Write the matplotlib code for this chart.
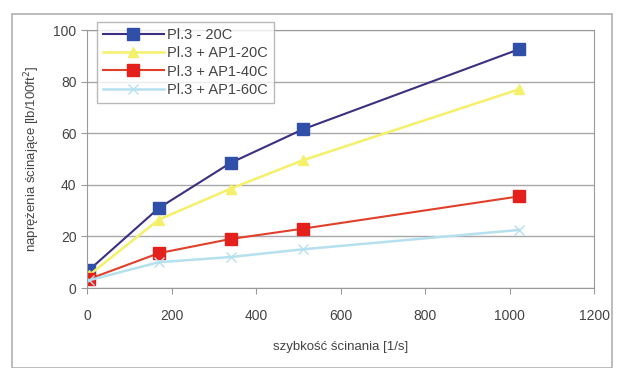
import matplotlib.pyplot as plt
from matplotlib.patches import Rectangle

shear_rate = [5.1, 170, 340, 511, 1022]
pl3_20c = [7, 31, 48.5, 61.5, 92.5]
ap1_20c = [5, 26.5, 38.5, 49.5, 77]
ap1_40c = [3.5, 13.5, 19, 23, 35.5]
ap1_60c = [3, 10, 12, 15, 22.5]

x_ticks = [0, 200, 400, 600, 800, 1000, 1200]
y_ticks = [0, 20, 40, 60, 80, 100]

plt.rcParams["font.family"] = ["Liberation Sans", "DejaVu Sans"]

fig = plt.figure(figsize=(6.21, 3.68), dpi=100)
# light gray frame around the whole chart (Excel style)
fig.patches.append(Rectangle((12 / 621, 0.0), 600 / 621, 1 - 14 / 368,
                             transform=fig.transFigure, fill=False,
                             edgecolor="#b0b0b0", linewidth=1.2))
ax = fig.add_axes([87 / 621, 80 / 368, 507 / 621, 258 / 368])

ax.plot(shear_rate, pl3_20c, color="#3b2f80", linewidth=1.5,
        marker="s", markersize=8, markerfacecolor="#2f4fa8",
        markeredgecolor="#2f4fa8", label="Pl.3 - 20C")
ax.plot(shear_rate, ap1_20c, color="#f5f06a", linewidth=1.8,
        marker="^", markersize=7, markerfacecolor="#f5f06a",
        markeredgecolor="#f5f06a", label="Pl.3 + AP1-20C")
ax.plot(shear_rate, ap1_40c, color="#e0402a", linewidth=1.5,
        marker="s", markersize=8, markerfacecolor="#e3201b",
        markeredgecolor="#e3201b", label="Pl.3 + AP1-40C")
ax.plot(shear_rate, ap1_60c, color="#b5e0ee", linewidth=1.8,
        marker="x", markersize=7, markeredgecolor="#b5e0ee",
        label="Pl.3 + AP1-60C")

ax.set_xlim(0, 1200)
ax.set_ylim(0, 100)
ax.set_xticks(x_ticks)
ax.set_yticks(y_ticks)
ax.yaxis.grid(True, color="#a8a8a8", linewidth=1)
ax.set_axisbelow(True)
for side in ["left", "bottom", "right", "top"]:
    ax.spines[side].set_color("#9a9a9a")
ax.tick_params(colors="#9a9a9a", labelcolor="#444444", labelsize=10,
               length=4, direction="out")
ax.tick_params(axis="x", pad=11)

ax.set_xlabel("szybkość ścinania [1/s]", fontsize=9.5, color="#444444",
              labelpad=13)
ax.set_ylabel("naprężenia ścinające [lb/100ft$^2$]", fontsize=9.5,
              color="#444444", labelpad=8)

leg = ax.legend(loc="upper left", bbox_to_anchor=(97 / 621, 1 - 22 / 368),
                bbox_transform=fig.transFigure, fontsize=10.5, frameon=True,
                fancybox=False, handlelength=4.2, borderaxespad=0,
                labelspacing=0.3, borderpad=0.4, handletextpad=0.2)
leg.get_frame().set_edgecolor("#a8a8a8")
for t in leg.get_texts():
    t.set_color("#444444")

fig.savefig("out.png", dpi=100)
